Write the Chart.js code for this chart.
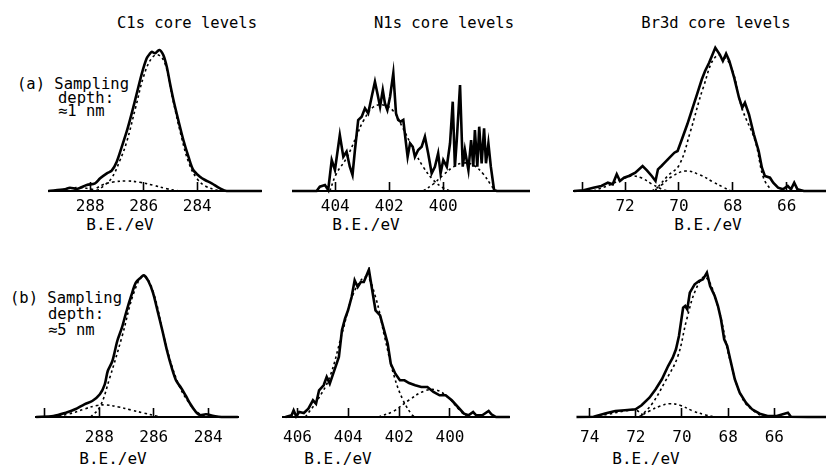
<!DOCTYPE html>
<html><head><meta charset="utf-8">
<script src="https://cdn.jsdelivr.net/npm/chart.js@4/dist/chart.umd.min.js"></script>
<style>
html,body{margin:0;padding:0;background:#fff;}
#wrap{position:relative;width:826px;height:466px;overflow:hidden;font-family:"DejaVu Sans Mono",monospace;color:#000;background:#fff;}
.t{position:absolute;white-space:pre;font-size:15.5px;line-height:1;transform:translateY(-50%);}
.c{transform:translate(-50%,-50%);}
.ax{font-size:16px;}
canvas{position:absolute;}
</style></head><body><div id="wrap">
<div class="t c" style="left:187px;top:24px">C1s core levels</div>
<div class="t c" style="left:444px;top:24px">N1s core levels</div>
<div class="t c" style="left:716px;top:24px">Br3d core levels</div>
<div class="t" style="left:17px;top:85px">(a) Sampling</div>
<div class="t" style="left:58px;top:99px">depth:</div>
<div class="t" style="left:58px;top:112px">≈1 nm</div>
<div class="t" style="left:10px;top:299px">(b) Sampling</div>
<div class="t" style="left:48px;top:315px">depth:</div>
<div class="t" style="left:48px;top:331px">≈5 nm</div>
<div class="t c ax" style="left:120px;top:225px">B.E./eV</div>
<div class="t c ax" style="left:366px;top:225px">B.E./eV</div>
<div class="t c ax" style="left:708px;top:225px">B.E./eV</div>
<div class="t c ax" style="left:113px;top:459px">B.E./eV</div>
<div class="t c ax" style="left:338px;top:459px">B.E./eV</div>
<div class="t c ax" style="left:646px;top:459px">B.E./eV</div>
</div>
<script>
// ---------- data (binding energy in eV, intensity in a.u.) ----------
// (a) C1s
const c1sA_E = [289.57,288.94,288.76,288.50,288.13,287.82,287.63,287.38,287.20,287.01,286.82,286.64,286.45,286.26,286.07,285.89,285.76,285.70,285.58,285.42,285.27,285.14,285.02,284.89,284.71,284.52,284.33,284.15,283.90,283.71,283.46,283.15,282.90,281.59];
const c1sA_I = [0,1.7,3.3,2,6,7.7,12.7,17.7,20.3,29.3,44.3,59.3,77.7,97.7,117.7,132.7,137.7,139.3,137.7,141,136,124.3,107.7,91,71,51,34.3,21,14.3,11,7.7,2.7,0,0];
const c1sA_fit1_E = [287.76,287.50,287.20,286.90,286.64,286.30,286.00,285.70,285.45,285.20,284.90,284.60,284.30,284.00,283.70,283.30,283.08];
const c1sA_fit1_I = [0,5,13,30,49,84,115,133,136,127,90,55,27,12,5,1,0];
const c1sA_fit2_E = [287.76,287.51,287.14,286.64,286.14,285.64,285.14,284.77,284.60];
const c1sA_fit2_I = [3,6.5,9,10,8.7,5.7,2.3,0.5,0];
const c1sA_fit3_E = [289.20,288.80,288.40,288.00,287.70];
const c1sA_fit3_I = [0,2.5,3.5,2,0];
// (a) N1s
const n1sA_E = [405.61,404.69,404.57,404.38,404.26,404.13,404.01,403.83,403.70,403.58,403.46,403.36,403.27,403.15,403.02,402.90,402.78,402.65,402.53,402.44,402.34,402.24,402.16,402.07,401.97,401.85,401.75,401.67,401.58,401.48,401.38,401.32,401.23,401.13,401.05,400.93,400.80,400.68,400.56,400.43,400.31,400.19,400.10,400.00,399.87,399.75,399.65,399.57,399.50,399.38,399.28,399.20,399.07,398.97,398.89,398.83,398.74,398.67,398.58,398.49,398.42,398.33,398.24,398.12,398.02,396.79];
const n1sA_I = [0,0,4.3,6,1,31,21,56,34.3,39.3,24.3,16,41,71,74.3,82.7,77.7,94.3,109.3,97.7,84.3,101,87.7,81,94.3,117.7,77.7,71,69.3,71,47.7,34.3,47.7,44.3,34.3,41,44.3,54.3,37.7,17.7,24.3,37.7,17.7,31,24.3,47.7,89.3,24.3,51,106,24.3,41,21,51,24.3,61,24.3,64.3,27.7,62.7,27.7,47.7,24.3,1,0,0];
const n1sA_fit1_E = [404.20,403.95,403.58,403.21,402.96,402.59,402.22,401.85,401.48,401.11,400.74,400.37,400.00,399.75];
const n1sA_fit1_I = [0,17.7,33,55,70,84,86,80,62,42,24,11,3,0];
const n1sA_fit2_E = [400.74,400.37,400.00,399.63,399.26,398.89,398.52,398.21,398.05];
const n1sA_fit2_I = [0,7,16,24,28,26,17,5,0];
// (a) Br3d
const br3dA_E = [73.90,73.54,73.18,72.88,72.64,72.46,72.31,72.19,72.04,71.86,71.62,71.35,71.19,71.01,70.87,70.78,70.65,70.53,70.35,70.17,70.05,69.87,69.69,69.51,69.33,69.15,69.03,68.88,68.75,68.65,68.49,68.37,68.25,68.13,67.95,67.77,67.65,67.55,67.40,67.22,67.04,66.92,66.81,66.62,66.50,66.32,66.14,65.96,65.84,65.72,65.60,65.36,64.52];
const br3dA_I = [0,0.7,3.3,5,8.3,6.7,16.7,10,13.3,15,18.3,25,20.7,15,10,21.7,25,28.3,33.3,38.3,40,53.3,66.7,81.7,96.7,111.7,120,128.3,136.7,143.3,136.7,130,137.3,130,113.3,93.3,83.3,88.3,76.7,56.7,40,23.3,15,13.3,8.3,3.3,1.7,5,1.7,8.3,1.7,0,0];
const br3dA_fit1_E = [70.90,70.42,69.99,69.57,69.09,68.61,68.13,67.65,67.17,66.86,66.56];
const br3dA_fit1_I = [0,15,26,60,104,135,128,82,50,13,0];
const br3dA_fit2_E = [71.01,70.65,70.29,69.75,69.21,68.73,68.37,68.07];
const br3dA_fit2_I = [0,6,14,20,16,9,4,0];
const br3dA_fit3_E = [73.18,72.58,72.10,71.74,71.38,71.01,70.65,70.42];
const br3dA_fit3_I = [0,6,12,15,13,7,2,0];
// (b) C1s
const c1sB_E = [290.32,289.69,289.23,288.89,288.55,288.26,287.98,287.80,287.69,287.52,287.34,287.17,287.00,286.83,286.66,286.48,286.37,286.20,286.03,285.86,285.68,285.51,285.34,285.17,285.00,284.82,284.65,284.48,284.31,284.08,283.74,283.51,282.91];
const c1sB_I = [0,1,4.3,7.7,12.7,16,22.7,32.7,46,56,76,89.3,106,121,134.3,139.3,141.7,136,124.3,106,86,66,49.3,36,29.3,21,12.7,6,2,2.7,0.7,0,0];
const c1sB_fit1_E = [288.32,287.98,287.63,287.17,286.71,286.37,286.03,285.57,285.11,284.65,284.31,284.02];
const c1sB_fit1_I = [0,10,38,80,126,141,126,74,34,12,3,0];
const c1sB_fit2_E = [289.69,289.12,288.55,288.09,287.75,287.29,286.83,286.37,285.91,285.68];
const c1sB_fit2_I = [0.5,3,8,11.5,12,10,7,4,1,0];
// (b) N1s
const n1sB_E = [406.47,406.23,406.15,406.05,405.93,405.75,405.57,405.39,405.27,405.15,404.97,404.85,404.73,404.55,404.37,404.25,404.13,404.01,403.87,403.75,403.63,403.51,403.39,403.19,403.08,402.93,402.75,402.59,402.45,402.33,402.15,401.97,401.79,401.61,401.37,401.13,400.89,400.65,400.41,400.17,399.93,399.69,399.45,399.27,399.09,398.97,398.73,398.48,398.37,398.19,397.65];
const n1sB_I = [0,1.7,6.7,0.7,5,4,8.3,16.7,13.3,26.7,31.7,40,33.3,46.7,60,86.7,98.3,106.7,120,136.7,130,135,135,147.3,130,106.7,101.7,86.7,73.3,53.3,43.3,36.7,36.7,34,31.7,30,30,25,21.7,21.7,16.7,10,3.3,1.7,5,1.7,1.7,6,2.7,0,0];
const n1sB_fit1_E = [405.69,405.21,404.73,404.25,403.77,403.29,402.93,402.57,402.21,401.85,401.49,401.37];
const n1sB_fit1_I = [0,17,40,83,125,140,120,80,42,17,2,0];
const n1sB_fit2_E = [402.81,402.21,401.61,401.01,400.53,400.05,399.63,399.33];
const n1sB_fit2_I = [0,6,17,26,27,19,7,0];
// (b) Br3d
const br3dB_E = [74.57,73.83,73.29,72.89,72.48,72.01,71.75,71.41,71.14,70.87,70.60,70.40,70.26,70.13,69.95,69.86,69.77,69.66,69.45,69.25,69.09,68.92,68.78,68.58,68.44,68.31,68.17,68.04,67.91,67.71,67.50,67.23,66.96,66.63,66.29,65.89,65.41,65.28,64.54,63.73];
const br3dB_I = [0,0.3,3.7,6,6.7,7.7,11.7,19.3,27.7,37.7,51,59.3,67.7,81,109.3,111,107.7,124.3,132.7,136,137.7,144.3,131,121,111,97.7,77.7,71,57.7,37.7,24.3,14.3,7.7,3.3,1,1,4.3,0.3,0,0];
const br3dB_fit1_E = [71.81,71.27,70.74,70.19,69.79,69.39,68.98,68.44,67.91,67.37,66.83,66.42];
const br3dB_fit1_I = [0,14,35,60,98,128,140,110,56,18,5,0];
const br3dB_fit2_E = [71.88,71.41,70.94,70.53,70.06,69.52,68.98,68.58];
const br3dB_fit2_I = [0,6,11,13.3,11.5,6,2,0];
const br3dB_fit3_E = [73.83,73.16,72.48,72.01,71.75,71.54];
const br3dB_fit3_I = [0,3,6,7,3,0];
// tick marks and their labels ('' = unlabelled tick mark)
const c1sATicks = [288,286,284];
const c1sALabels = ['288','286','284'];
const c1sBTicks = [290,288,286,284];
const c1sBLabels = ['','288','286','284'];
const n1sATicks = [404,402,400];
const n1sALabels = ['404','402','400'];
const n1sBTicks = [406,404,402,400];
const n1sBLabels = ['406','404','402','400'];
const br3dATicks = [73.6,72,70,68,66];
const br3dALabels = ['','72','70','68','66'];
const br3dBTicks = [74,72,70,68,66];
const br3dBLabels = ['74','72','70','68','66'];

// ---------- layout ----------
const PLOT_H = 150, AXIS_H = 40;
const wrap = document.getElementById('wrap');

function build(lay, ticks, labels, series) {
  const cv = document.createElement('canvas');
  cv.width = lay.width; cv.height = PLOT_H + AXIS_H;
  cv.style.left = lay.left + 'px';
  cv.style.top = (lay.base - PLOT_H) + 'px';
  cv.style.width = lay.width + 'px';
  cv.style.height = (PLOT_H + AXIS_H) + 'px';
  wrap.appendChild(cv);
  new Chart(cv, {
    type: 'line',
    data: {
      datasets: series.map(s => ({
        data: s.E.map((e, i) => ({x: e, y: s.I[i]})),
        borderColor: '#000',
        borderWidth: s.fit ? 1.6 : 2.6,
        borderDash: s.fit ? [2.5, 3] : [],
        pointRadius: 0,
        tension: s.fit ? 0.4 : (s.smooth ? 0.3 : 0),
        fill: false,
        clip: false,
        order: s.fit ? 1 : 0
      }))
    },
    options: {
      responsive: false, animation: false, events: [],
      layout: {padding: 0},
      plugins: {legend: {display: false}, tooltip: {enabled: false}, title: {display: false}},
      scales: {
        x: {
          type: 'linear', reverse: true, min: lay.min, max: lay.max,
          afterBuildTicks: sc => { sc.ticks = ticks.map(v => ({value: v})); },
          afterFit: sc => { sc.height = AXIS_H; },
          grid: {drawOnChartArea: false, drawTicks: true, tickLength: -9, tickWidth: 1.6, tickColor: '#000'},
          border: {display: true, color: '#000', width: 2},
          ticks: {autoSkip: false, maxRotation: 0, padding: lay.pad, color: '#000',
                  font: {family: 'DejaVu Sans Mono', size: 16},
                  callback: (v, i) => labels[i]}
        },
        y: {display: false, min: 0, max: PLOT_H}
      }
    }
  });
}

build({left: 48, base: 191, width: 214, min: 281.58, max: 289.58, pad: 15}, c1sATicks, c1sALabels, [
  {E: c1sA_fit1_E, I: c1sA_fit1_I, fit: true},
  {E: c1sA_fit2_E, I: c1sA_fit2_I, fit: true},
  {E: c1sA_fit3_E, I: c1sA_fit3_I, fit: true},
  {E: c1sA_E, I: c1sA_I, smooth: true}
]);
build({left: 292, base: 191, width: 238, min: 396.79, max: 405.6, pad: 15}, n1sATicks, n1sALabels, [
  {E: n1sA_fit1_E, I: n1sA_fit1_I, fit: true},
  {E: n1sA_fit2_E, I: n1sA_fit2_I, fit: true},
  {E: n1sA_E, I: n1sA_I}
]);
build({left: 567, base: 191, width: 259, min: 64.54, max: 73.89, pad: 15}, br3dATicks, br3dALabels, [
  {E: br3dA_fit1_E, I: br3dA_fit1_I, fit: true},
  {E: br3dA_fit2_E, I: br3dA_fit2_I, fit: true},
  {E: br3dA_fit3_E, I: br3dA_fit3_I, fit: true},
  {E: br3dA_E, I: br3dA_I}
]);
build({left: 25, base: 417, width: 216, min: 282.9, max: 290.32, pad: 20}, c1sBTicks, c1sBLabels, [
  {E: c1sB_fit1_E, I: c1sB_fit1_I, fit: true},
  {E: c1sB_fit2_E, I: c1sB_fit2_I, fit: true},
  {E: c1sB_E, I: c1sB_I, smooth: true}
]);
build({left: 263, base: 417, width: 247, min: 397.64, max: 406.55, pad: 20}, n1sBTicks, n1sBLabels, [
  {E: n1sB_fit1_E, I: n1sB_fit1_I, fit: true},
  {E: n1sB_fit2_E, I: n1sB_fit2_I, fit: true},
  {E: n1sB_E, I: n1sB_I}
]);
build({left: 560, base: 417, width: 266, min: 63.76, max: 74.5, pad: 20}, br3dBTicks, br3dBLabels, [
  {E: br3dB_fit1_E, I: br3dB_fit1_I, fit: true},
  {E: br3dB_fit2_E, I: br3dB_fit2_I, fit: true},
  {E: br3dB_fit3_E, I: br3dB_fit3_I, fit: true},
  {E: br3dB_E, I: br3dB_I}
]);
</script></body></html>
